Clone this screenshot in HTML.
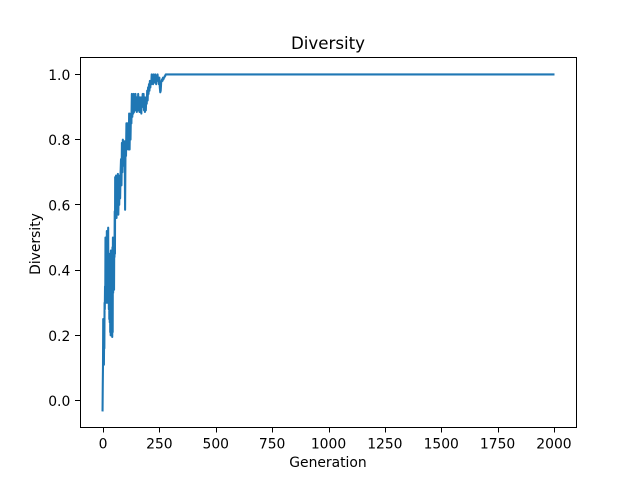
<!DOCTYPE html>
<html>
<head>
<meta charset="utf-8">
<title>Diversity</title>
<style>
html,body{margin:0;padding:0;background:#fff;}
svg{display:block;}
text{font-family:"DejaVu Sans",sans-serif;fill:#000;}
</style>
</head>
<body>
<svg id="chart" xmlns="http://www.w3.org/2000/svg" width="640" height="480" viewBox="0 0 640 480">
<rect x="0" y="0" width="640" height="480" fill="#fff"/>
<text x="328" y="49" font-size="16.67" text-anchor="middle">Diversity</text>
<text x="328" y="467" font-size="13.89" text-anchor="middle">Generation</text>
<text transform="translate(40,244) rotate(-90)" font-size="13.89" text-anchor="middle">Diversity</text>
<g id="ticks"></g>
<path id="line" fill="none" stroke="#1f77b4" stroke-width="2.08" stroke-linejoin="round" stroke-linecap="square"></path>
<g stroke="#000" stroke-width="1.11" shape-rendering="crispEdges">
<line x1="80.5" y1="57.5" x2="80.5" y2="427.5"/>
<line x1="576.5" y1="57.5" x2="576.5" y2="427.5"/>
<line x1="80" y1="57.5" x2="577" y2="57.5"/>
<line x1="80" y1="427.5" x2="577" y2="427.5"/>
</g>
</svg>
<script>
const generations = [
0,1,2,3,4,5,6,7,8,9,
10,11,12,13,14,15,16,17,18,19,
20,21,22,23,24,25,26,27,28,29,
30,31,32,33,34,35,36,37,38,39,
40,41,42,43,44,45,46,47,48,49,
50,51,52,53,54,55,56,57,58,59,
60,62,64,66,68,70,72,74,76,78,
80,82,84,86,88,90,92,94,96,98,
100,102,104,106,108,110,112,114,116,118,
120,122,124,126,128,130,132,134,136,138,
140,142,144,146,148,150,152,154,156,158,
160,162,164,166,168,170,172,174,176,178,
180,182,184,186,188,190,192,194,196,198,
200,202,204,206,208,210,212,214,216,218,
220,222,224,226,228,230,232,234,236,238,
240,242,244,246,248,250,252,254,256,258,
260,262,264,266,268,270,272,274,276,278,
280,282,284,286,288,290,292,294,296,298,
300,500,1000,1500,2000];
const diversity = [
-0.03,0.05,0.11,0.25,0.17,0.25,0.11,0.19,0.16,0.3,
0.28,0.35,0.3,0.5,0.36,0.47,0.3,0.5,0.31,0.52,
0.32,0.45,0.3,0.46,0.31,0.53,0.3,0.44,0.28,0.45,
0.25,0.42,0.24,0.45,0.21,0.44,0.2,0.46,0.21,0.45,
0.2,0.44,0.22,0.195,0.47,0.21,0.5,0.33,0.49,0.36,
0.45,0.34,0.5,0.44,0.58,0.45,0.685,0.56,0.68,0.57,
0.69,0.56,0.67,0.58,0.695,0.57,0.68,0.6,0.69,0.62,
0.7,0.74,0.66,0.79,0.7,0.8,0.72,0.79,0.73,0.795,
0.585,0.79,0.75,0.85,0.77,0.85,0.78,0.84,0.77,0.88,
0.77,0.87,0.8,0.88,0.85,0.94,0.87,0.93,0.88,0.94,
0.885,0.93,0.89,0.94,0.9,0.93,0.885,0.93,0.89,0.94,
0.89,0.92,0.885,0.93,0.9,0.92,0.88,0.93,0.9,0.94,
0.9,0.94,0.89,0.93,0.885,0.92,0.89,0.93,0.91,0.95,
0.92,0.96,0.94,0.97,0.95,0.98,0.96,0.98,0.97,1.0,
0.98,0.99,0.97,1.0,0.98,0.985,0.975,1.0,0.99,0.97,
0.99,0.98,1.0,0.98,0.99,0.97,0.99,0.96,0.945,0.95,
0.975,0.98,0.985,0.98,0.99,0.985,0.99,0.99,0.995,0.995,
1,1,1,1,1,1,1,1,1,1,
1,1,1,1,1];
const xTickValues = [0,250,500,750,1000,1250,1500,1750,2000];
const yTickValues = [0,0.2,0.4,0.6,0.8,1];
const xAxisDomain = [-100,2100];
const yAxisDomain = [-0.0815,1.0515];

function xScale(v){return 80+(v-xAxisDomain[0])/(xAxisDomain[1]-xAxisDomain[0])*496;}
function yScale(v){return 427.2-(v-yAxisDomain[0])/(yAxisDomain[1]-yAxisDomain[0])*369.6;}

const NS='http://www.w3.org/2000/svg';
let d='';
generations.forEach(function(g,i){
  d+=(i?'L':'M')+xScale(g).toFixed(2)+' '+yScale(diversity[i]).toFixed(2);
});
document.getElementById('line').setAttribute('d',d);

const tg=document.getElementById('ticks');
xTickValues.forEach(function(v){
  const x=Math.round(xScale(v)+0.5)+0.5;
  const t=document.createElementNS(NS,'line');
  
  
  t.setAttribute('x1',x);t.setAttribute('x2',x);
  t.setAttribute('y1',427.5);t.setAttribute('y2',432.5);
  t.setAttribute('stroke','#000');t.setAttribute('stroke-width','1.11');
  t.setAttribute('shape-rendering','crispEdges');
  tg.appendChild(t);
  const l=document.createElementNS(NS,'text');
  
  
  l.setAttribute('x',xScale(v)+0.5);l.setAttribute('y',448.5);
  l.setAttribute('font-size','13.89');l.setAttribute('text-anchor','middle');
  l.textContent=String(v);
  tg.appendChild(l);
});
yTickValues.forEach(function(v){
  const y=Math.round(yScale(v)-0.5)+0.5;
  const t=document.createElementNS(NS,'line');
  
  
  t.setAttribute('x1',75);t.setAttribute('x2',80);
  t.setAttribute('y1',y);t.setAttribute('y2',y);
  t.setAttribute('stroke','#000');t.setAttribute('stroke-width','1.11');
  t.setAttribute('shape-rendering','crispEdges');
  tg.appendChild(t);
  const l=document.createElementNS(NS,'text');
  
  
  l.setAttribute('x',70.3);l.setAttribute('y',yScale(v)+5.6);
  l.setAttribute('font-size','13.89');l.setAttribute('text-anchor','end');
  l.textContent=v.toFixed(1);
  tg.appendChild(l);
});
</script>
</body>
</html>
